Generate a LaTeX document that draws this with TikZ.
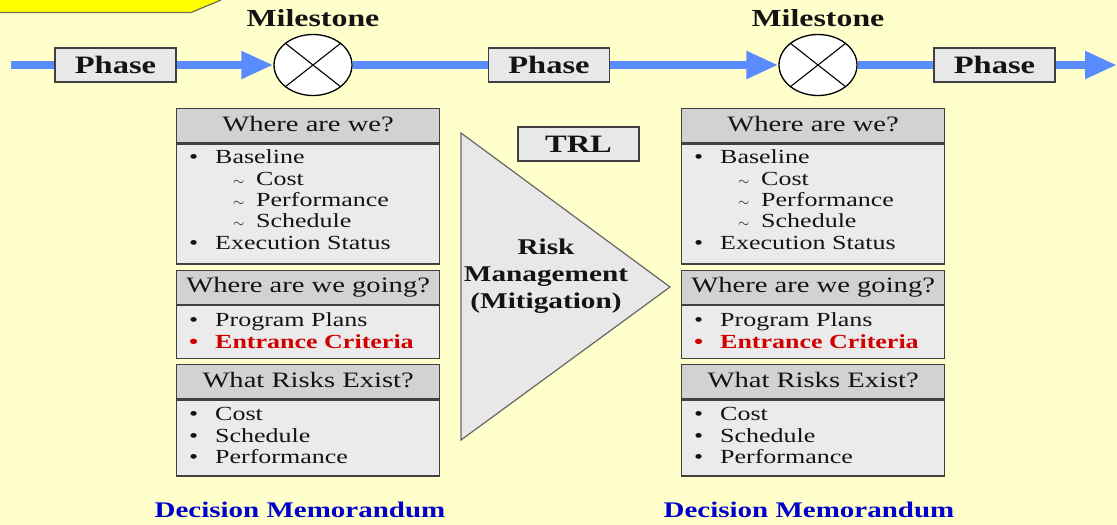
\documentclass[tikz,border=0pt]{standalone}
\usepackage{fontspec}
\setmainfont{Liberation Serif}[FakeStretch=1.3]
\usetikzlibrary{arrows.meta,positioning,shapes.geometric}

\definecolor{bgyellow}{HTML}{FFFFCC}
\definecolor{bannery}{HTML}{FFFF00}
\definecolor{bannerline}{HTML}{6E6E50}
\definecolor{flowblue}{HTML}{5B8CFF}
\definecolor{hdrgray}{HTML}{D2D2D2}
\definecolor{bodygray}{HTML}{EBEBEB}
\definecolor{phasegray}{HTML}{E8E8E8}
\definecolor{critred}{HTML}{D00000}
\definecolor{memoblue}{HTML}{0000CC}
\definecolor{textdark}{HTML}{141414}

\newcommand{\itm}[1]{\makebox[26pt][l]{\textbullet}#1}
\newcommand{\subitm}[1]{\hspace{44pt}\makebox[23pt][l]{\fontsize{14}{14}\selectfont$\sim$}#1}

\tikzset{
  phasebox/.style={draw=black!75,line width=1.3pt,fill=phasegray,minimum width=121pt,
    minimum height=34pt,inner sep=0pt,text height=17pt,text depth=0pt,
    font=\bfseries\fontsize{25}{30}\selectfont,text=textdark},
  milestone/.style={ellipse,draw=black,line width=1.3pt,fill=white,minimum width=78pt,
    minimum height=61pt,inner sep=0pt},
  mslabel/.style={inner sep=0pt,font=\bfseries\fontsize{24.5}{29}\selectfont,text=textdark},
  flow/.style={flowblue,line width=8.5pt},
  flowtip/.style={-{Triangle[length=32pt,width=26pt]}},
  hdrbox/.style={anchor=north west,draw=black!75,line width=1.3pt,fill=hdrgray,
    minimum width=263pt,minimum height=34pt,inner sep=0pt,text height=15pt,text depth=4pt,
    font=\fontsize{22}{26}\selectfont,text=textdark},
  bodybox/.style={anchor=north west,draw=black!75,line width=1.3pt,fill=bodygray,
    minimum width=263pt,inner sep=0pt},
  listtext/.style={anchor=base west,align=left,inner sep=0pt,
    font=\fontsize{20}{21.3}\selectfont,text=textdark},
  memo/.style={anchor=base,inner sep=0pt,font=\bfseries\fontsize{22.3}{26}\selectfont,text=memoblue}
}

\begin{document}
\begin{tikzpicture}[x=1pt,y=-1pt]
\useasboundingbox[fill=bgyellow] (0,0) rectangle (1117,525);

% corner of the title banner
\fill[bannery] (0,0) -- (0,12.5) -- (191,12.5) -- (221,0) -- cycle;
\draw[bannerline,line width=1.2pt] (0,12.5) -- (191,12.5) -- (221,0);

% phases and milestones
\node[phasebox] (ph1) at (115.5,65) {Phase};
\node[milestone] (ms1) at (313,65) {};
\node[phasebox] (ph2) at (549,65) {Phase};
\node[milestone] (ms2) at (818,65) {};
\node[phasebox] (ph3) at (994.5,65) {Phase};
\node[mslabel,above=7pt of ms1] (ml1) {Milestone};
\node[mslabel,above=7pt of ms2] (ml2) {Milestone};
\coordinate (start) at (11,65);
\coordinate (finish) at (1117,65);

\draw[flow] (start) -- (ph1);
\draw[flow,flowtip] (ph1) -- (ms1);
\draw[flow] (ms1) -- (ph2);
\draw[flow,flowtip] (ph2) -- (ms2);
\draw[flow] (ms2) -- (ph3);
\draw[flow,flowtip] (ph3) -- (finish);
\foreach \m in {ms1,ms2}
{\draw[line width=1.1pt] (\m.north west) -- (\m.south east);
\draw[line width=1.1pt] (\m.north east) -- (\m.south west);}

% risk management wedge (base = last line)
\filldraw[fill=phasegray,draw=black!60,line width=1.2pt] (461,133) -- (461,440) -- (670,287) -- cycle;
\node[anchor=base,align=center,inner sep=0pt,font=\bfseries\fontsize{22.5}{27}\selectfont,
  text=textdark] (risk) at (546,308) {Risk\\Management\\(Mitigation)};
\node[phasebox] (trl) at (578.5,144) {TRL};

% status panels, lists placed by their last line
\foreach \px/\mx/\nm in {176/300/L,681/809/R}
{\node[hdrbox] (\nm h1) at (\px,108) {Where are we?};
\node[bodybox,minimum height=120pt] (\nm b1) at (\nm h1.south west) {};
\node[listtext] (\nm t1) at (\px+13,249) {\itm{Baseline}\\\subitm{Cost}\\\subitm{Performance}\\
  \subitm{Schedule}\\\itm{Execution Status}};
\node[hdrbox] (\nm h2) at (\px,269.5) {Where are we going?};
\node[bodybox,minimum height=53pt] (\nm b2) at (\nm h2.south west) {};
\node[listtext] (\nm t2) at (\px+13,348) {\itm{Program Plans}\\
  {\color{critred}\bfseries\itm{Entrance Criteria}}};
\node[hdrbox] (\nm h3) at (\px,364) {What Risks Exist?};
\node[bodybox,minimum height=76pt] (\nm b3) at (\nm h3.south west) {};
\node[listtext] (\nm t3) at (\px+13,463.5) {\itm{Cost}\\\itm{Schedule}\\\itm{Performance}};
\node[memo] (\nm m) at (\mx,517) {Decision Memorandum};}

\end{tikzpicture}
\end{document}
